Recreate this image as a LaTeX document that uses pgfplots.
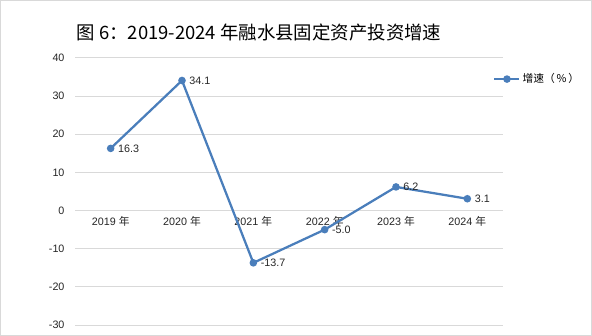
\documentclass[border=0pt]{standalone}
\usepackage{fontspec}
\setmainfont{Liberation Sans}
\newfontfamily\cjk{Noto Sans CJK SC}
\usepackage{pgfplots}
\pgfplotsset{compat=1.18}
\definecolor{lineblue}{RGB}{74,126,187}
\definecolor{gridgray}{RGB}{217,217,217}
\begin{document}
\begin{tikzpicture}
\useasboundingbox (0,0) rectangle (592bp,336bp);
\draw[gridgray, line width=1bp] (0.5bp,0.5bp) rectangle (591.5bp,335.5bp);
\node[font=\cjk\fontsize{18.5}{22}\selectfont, anchor=center] at (259bp,304bp) {图 6：2019-2024 年融水县固定资产投资增速};
\begin{axis}[
  at={(75bp,11bp)}, anchor=south west,
  scale only axis, width=428bp, height=267bp,
  xmin=-0.5, xmax=5.5, ymin=-30, ymax=40,
  axis x line=middle, axis y line=left,
  x axis line style={draw=gridgray, line width=1bp, -},
  y axis line style={draw=none},
  major tick length=0pt,
  xtick={0,1,2,3,4,5},
  xticklabels={2019 {\cjk 年},2020 {\cjk 年},2021 {\cjk 年},2022 {\cjk 年},2023 {\cjk 年},2024 {\cjk 年}},
  ytick={-30,-20,-10,0,10,20,30,40},
  yticklabels={-30,-20,-10,0,10,20,30,40},
  ymajorgrids, grid style={draw=gridgray, line width=1bp},
  tick label style={font=\fontsize{10.8}{12}\selectfont, text=black!85},
  yticklabel style={xshift=-7bp},
  xticklabel style={yshift=-2bp},
  clip=false,
  legend style={draw=none, fill=none, at={(0.97,0.921)}, anchor=west, font=\fontsize{10.8}{12}\selectfont, legend cell align=left},
  legend image code/.code={\draw[lineblue, line width=2.25bp] (0bp,0bp) -- (25bp,0bp); \fill[lineblue] (12.5bp,0bp) circle (2.6bp);},
  nodes near coords={\pgfplotspointmeta},
  point meta=explicit symbolic,
  every node near coord/.append style={anchor=west, xshift=3bp, font=\fontsize{10.8}{12}\selectfont, text=black!85},
]
\addplot[lineblue, line width=2.25bp, mark=*, mark size=2.6bp, mark options={fill=lineblue, draw=lineblue}]
  coordinates {(0,16.3) [16.3] (1,34.1) [34.1] (2,-13.7) [-13.7] (3,-5.0) [-5.0] (4,6.2) [6.2] (5,3.1) [3.1]};
\addlegendentry{{\cjk 增速（\,\%\,）}}
\end{axis}
\end{tikzpicture}
\end{document}
